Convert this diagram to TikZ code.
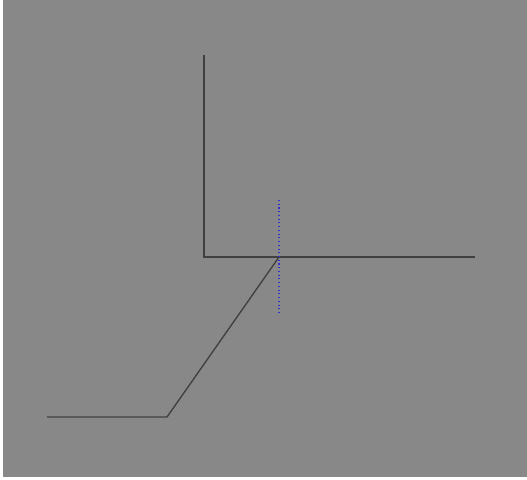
\documentclass[tikz,border=0pt]{standalone}
\usepackage{tikz}

\definecolor{bggray}{HTML}{888888}
\definecolor{linegray}{HTML}{404040}
\definecolor{axisblue}{HTML}{3030D0}

\begin{document}
\begin{tikzpicture}[x=0.75pt,y=-0.75pt,
  arm/.style={draw=linegray,line width=1.3pt},
  guide/.style={draw=axisblue,line width=0.8pt,dotted}]
\useasboundingbox (0,0) rectangle (527,479);
\fill[white] (0,0) rectangle (527,479);
\fill[bggray] (3,0) rectangle (527,477);

\coordinate (T) at (204,55);
\coordinate (C) at (204,257);
\coordinate (R) at (475,257);
\coordinate (J) at (279,257);
\coordinate (K) at (167,417);
\coordinate (L) at (47,417);
\coordinate (G1) at (279,200);
\coordinate (G2) at (279,313);

\draw[arm] (T)--(C)--(R);
\draw[arm,line width=1pt] (J)--(K)--(L);

\draw[guide] (G1)--(G2);% dotted guide
\end{tikzpicture}
\end{document}
